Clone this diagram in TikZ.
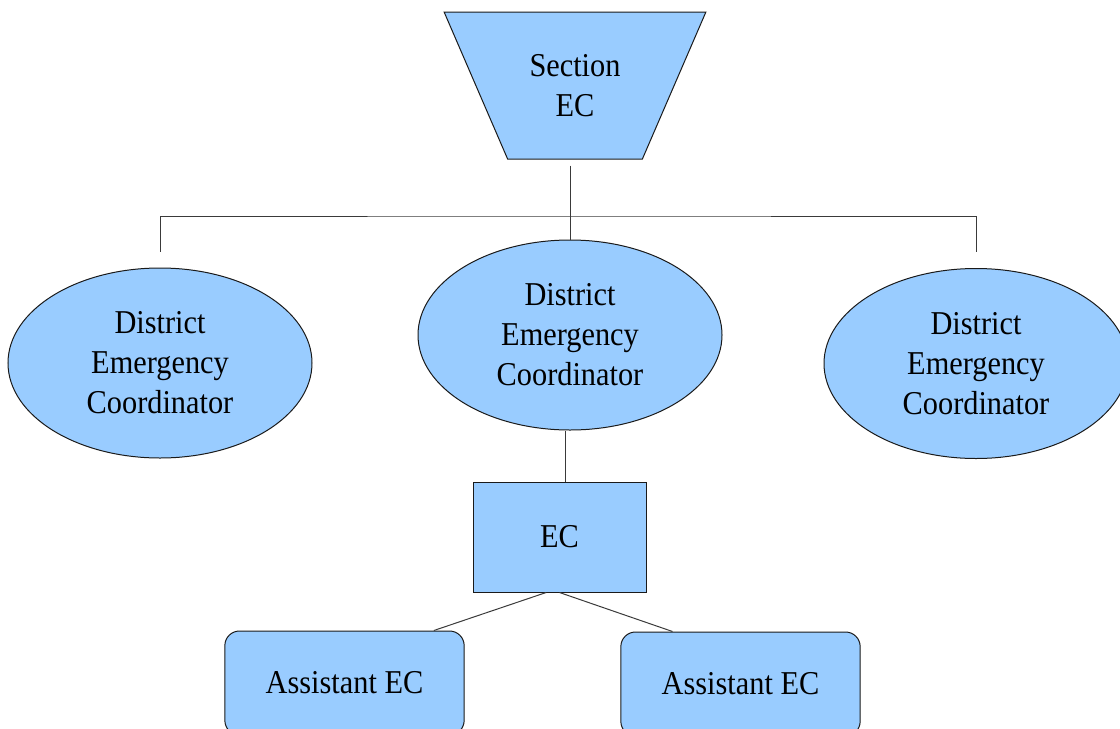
\documentclass[tikz,border=0pt]{standalone}
\usepackage{fontspec}
\setmainfont[FakeStretch=0.91]{Liberation Serif}
\usepackage{xcolor}
\usepackage{tikz}
\usetikzlibrary{shapes.geometric, positioning, calc}
\definecolor{boxblue}{HTML}{99CCFF}
\definecolor{edgegray}{HTML}{1A1A1A}
\definecolor{linegray}{HTML}{3A3A3A}
\tikzset{
  secbox/.style={trapezium, trapezium stretches=true, shape border rotate=180,
    trapezium left angle=55.5, trapezium right angle=55.5,
    draw=edgegray, line width=0.75pt, fill=boxblue,
    font=\fontsize{25}{30}\selectfont, minimum width=196.5pt, minimum height=110.25pt,
    align=center, inner sep=0pt},
  decbox/.style={ellipse, draw=edgegray, line width=0.75pt, fill=boxblue,
    font=\fontsize{25}{30}\selectfont, minimum width=228pt, minimum height=142.5pt,
    align=center, inner sep=0pt},
  ecbox/.style={rectangle, draw=edgegray, line width=0.75pt, fill=boxblue,
    font=\fontsize{25}{30}\selectfont, minimum width=129.75pt, minimum height=82.5pt,
    align=center, inner sep=0pt},
  asstbox/.style={rectangle, rounded corners=11pt, draw=edgegray, line width=0.75pt, fill=boxblue,
    font=\fontsize{25}{30}\selectfont, minimum width=179.5pt, minimum height=78pt,
    align=center, inner sep=0pt},
  link/.style={draw=linegray, line width=0.75pt},
}
\begin{document}
\begin{tikzpicture}[x=0.75pt, y=-0.75pt]
  \useasboundingbox (0,0) rectangle (1120,728);
  % top
  \node[secbox] (sec) at (575,85.5) {Section\\EC};
  % districts
  \node[decbox] (dec1) at (160,363) {District\\Emergency\\Coordinator};
  \node[decbox] (dec2) at (570,335) {District\\Emergency\\Coordinator};
  \node[decbox] (dec3) at (976,363.5) {District\\Emergency\\Coordinator};
  \coordinate (bus) at (570,216);
  % EC and assistants
  \node[ecbox] (ec) at (559.5,537) {EC};
  \node[asstbox] (asst1) at (344.5,683) {Assistant EC};
  \node[asstbox] (asst2) at (740.5,684) {Assistant EC};

  \draw[link, shorten <=4.5pt] (sec.south -| dec2.north) -- (dec2.north);
  \draw[link, shorten <=12pt, shorten >=12pt] (dec1.north) |- (bus) -| (dec3.north);
  \draw[link] ([xshift=-3.5pt]dec2.south) -- ([xshift=-3.5pt]dec2.south |- ec.north);
  \draw[link] ([xshift=-10pt]ec.south) -- ([xshift=67pt]asst1.north);
  \draw[link] (ec.south) -- ([xshift=-51pt]asst2.north);
\end{tikzpicture}
\end{document}
